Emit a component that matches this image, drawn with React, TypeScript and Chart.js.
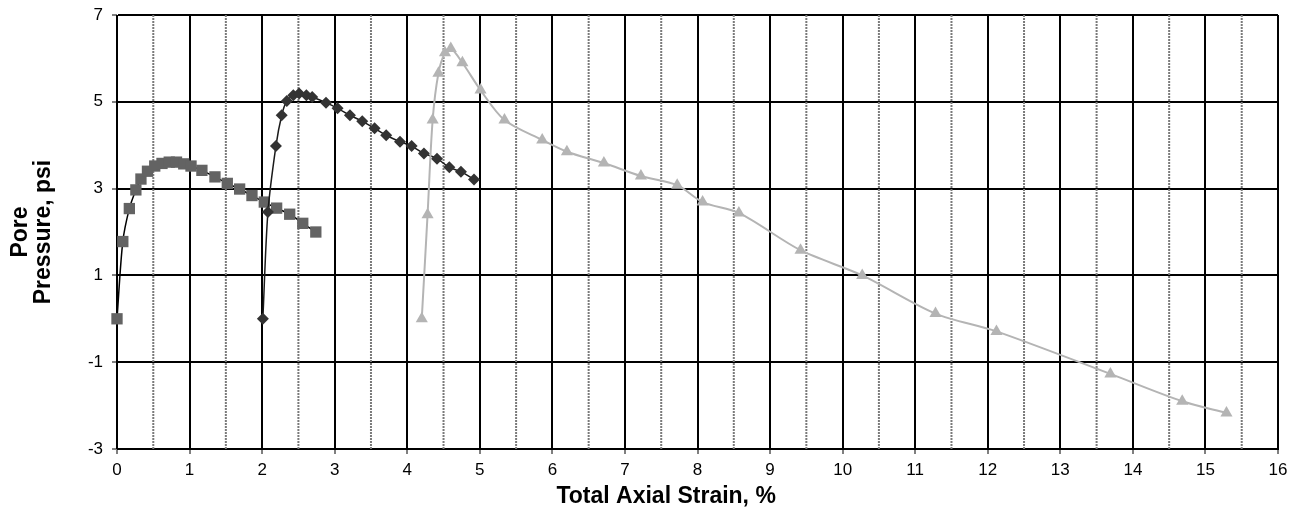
import React, { useEffect, useRef } from "react";
import { Chart, registerables } from "chart.js";

Chart.register(...registerables);

// Series 1 (squares)
const strain1 = [0, 0.08, 0.17, 0.26, 0.33, 0.42, 0.52, 0.62, 0.72, 0.82, 0.92, 1.02, 1.17, 1.35, 1.52, 1.69, 1.86, 2.03, 2.2, 2.38, 2.56, 2.74];
const pore1 = [0, 1.78, 2.54, 2.97, 3.22, 3.4, 3.52, 3.58, 3.61, 3.61, 3.57, 3.52, 3.42, 3.27, 3.12, 2.99, 2.84, 2.69, 2.55, 2.41, 2.2, 2.0];

// Series 2 (diamonds)
const strain2 = [2.01, 2.08, 2.19, 2.27, 2.34, 2.43, 2.51, 2.61, 2.69, 2.88, 3.04, 3.21, 3.38, 3.55, 3.71, 3.9, 4.06, 4.23, 4.41, 4.58, 4.74, 4.92];
const pore2 = [0, 2.46, 3.98, 4.69, 5.02, 5.15, 5.19, 5.15, 5.11, 4.98, 4.85, 4.69, 4.55, 4.39, 4.23, 4.08, 3.98, 3.81, 3.69, 3.49, 3.39, 3.21];

// Series 3 (triangles)
const strain3 = [4.2, 4.28, 4.35, 4.43, 4.52, 4.6, 4.76, 5.01, 5.34, 5.86, 6.2, 6.71, 7.22, 7.72, 8.07, 8.57, 9.42, 10.27, 11.28, 12.12, 13.69, 14.68, 15.29];
const pore3 = [0, 2.4, 4.58, 5.66, 6.13, 6.23, 5.9, 5.27, 4.58, 4.12, 3.85, 3.59, 3.29, 3.08, 2.69, 2.44, 1.58, 1.0, 0.12, -0.29, -1.27, -1.9, -2.17];

const xTickValues = [0, 1, 2, 3, 4, 5, 6, 7, 8, 9, 10, 11, 12, 13, 14, 15, 16];
const xMinorValues = [0.5, 1.5, 2.5, 3.5, 4.5, 5.5, 6.5, 7.5, 8.5, 9.5, 10.5, 11.5, 12.5, 13.5, 14.5, 15.5];
const yTickValues = [-3, -1, 1, 3, 5, 7];

const xTitle = "Total Axial Strain, %";
const yTitle = ["Pore", "Pressure, psi"];

const toPoints = (xs: number[], ys: number[]) => xs.map((x, i) => ({ x, y: ys[i] }));

const FONT = "'Liberation Sans', Arial, sans-serif";

const minorGridPlugin = {
  id: "minorGrid",
  beforeDatasetsDraw(chart: any) {
    const { ctx, chartArea, scales } = chart;
    const xs = scales.x;
    ctx.save();
    ctx.strokeStyle = "#7a7a7a";
    ctx.lineWidth = 2;
    ctx.setLineDash([2, 1]);
    xMinorValues.forEach((v) => {
      const px = xs.getPixelForValue(v);
      ctx.beginPath();
      ctx.moveTo(px, chartArea.top);
      ctx.lineTo(px, chartArea.bottom);
      ctx.stroke();
    });
    ctx.restore();
  },
};

const xTitlePlugin = {
  id: "xTitle",
  afterDraw(chart: any) {
    const { ctx, chartArea } = chart;
    ctx.save();
    ctx.fillStyle = "#000000";
    ctx.font = `bold 23px ${FONT}`;
    ctx.textAlign = "center";
    ctx.textBaseline = "middle";
    const cx = chartArea.left + (chartArea.right - chartArea.left) * 0.473;
    ctx.fillText(xTitle, cx, chartArea.bottom + 48);
    ctx.restore();
  },
};

export default function App() {
  const ref = useRef<HTMLCanvasElement | null>(null);

  useEffect(() => {
    document.body.style.margin = "0";
    const canvas = ref.current;
    if (!canvas) return;
    const chart = new Chart(canvas, {
      type: "scatter",
      data: {
        datasets: [
          {
            label: "Series 1",
            data: toPoints(strain1, pore1),
            showLine: true,
            borderColor: "#000000",
            borderWidth: 1.5,
            tension: 0.3,
            pointStyle: "rect",
            pointRadius: 8,
            pointBackgroundColor: "#636363",
            pointBorderColor: "#636363",
            pointBorderWidth: 0,
            clip: false,
            order: 3,
          },
          {
            label: "Series 2",
            data: toPoints(strain2, pore2),
            showLine: true,
            borderColor: "#1a1a1a",
            borderWidth: 1.5,
            tension: 0.3,
            pointStyle: "rectRot",
            pointRadius: 6,
            pointBackgroundColor: "#333333",
            pointBorderColor: "#333333",
            pointBorderWidth: 0,
            clip: false,
            order: 2,
          },
          {
            label: "Series 3",
            data: toPoints(strain3, pore3),
            showLine: true,
            borderColor: "#b4b4b4",
            borderWidth: 2,
            tension: 0.3,
            pointStyle: "triangle",
            pointRadius: 7,
            pointBackgroundColor: "#b4b4b4",
            pointBorderColor: "#b4b4b4",
            pointBorderWidth: 0,
            clip: false,
            order: 1,
          },
        ],
      },
      options: {
        animation: false,
        responsive: false,
        maintainAspectRatio: false,
        layout: { padding: { left: 0, top: 15, right: 23, bottom: 0 } },
        plugins: {
          legend: { display: false },
          tooltip: { enabled: false },
          title: { display: false },
        },
        scales: {
          x: {
            type: "linear",
            min: 0,
            max: 16,
            afterBuildTicks: (scale: any) => {
              scale.ticks = xTickValues.map((v) => ({ value: v }));
            },
            afterFit: (scale: any) => {
              scale.height = 80;
              scale.paddingLeft = 0;
              scale.paddingRight = 0;
            },
            grid: {
              color: "#000000",
              lineWidth: 2,
              tickLength: 5,
              tickColor: "#000000",
              tickWidth: 1,
            },
            border: { display: true, color: "#000000", width: 1 },
            ticks: {
              color: "#000000",
              font: { family: FONT, size: 17 },
              padding: 6,
              maxRotation: 0,
              autoSkip: false,
            },
            title: { display: false },
          },
          y: {
            type: "linear",
            min: -3,
            max: 7,
            afterBuildTicks: (scale: any) => {
              scale.ticks = yTickValues.map((v) => ({ value: v }));
            },
            afterFit: (scale: any) => {
              scale.width = 117;
              scale.paddingTop = 0;
              scale.paddingBottom = 0;
            },
            grid: {
              color: "#000000",
              lineWidth: 2,
              tickLength: 5,
              tickColor: "#000000",
              tickWidth: 1,
            },
            border: { display: true, color: "#000000", width: 1 },
            ticks: {
              color: "#000000",
              font: { family: FONT, size: 17 },
              padding: 9,
              autoSkip: false,
            },
            title: {
              display: true,
              text: yTitle,
              color: "#000000",
              font: { family: FONT, size: 23, weight: "bold", lineHeight: 1.0 },
              padding: { top: 9, bottom: 0 },
            },
          },
        },
      },
      plugins: [minorGridPlugin, xTitlePlugin],
    });
    return () => chart.destroy();
  }, []);

  return (
    <div style={{ width: 1301, height: 529 }}>
      <canvas ref={ref} width={1301} height={529} style={{ display: "block" }} />
    </div>
  );
}
